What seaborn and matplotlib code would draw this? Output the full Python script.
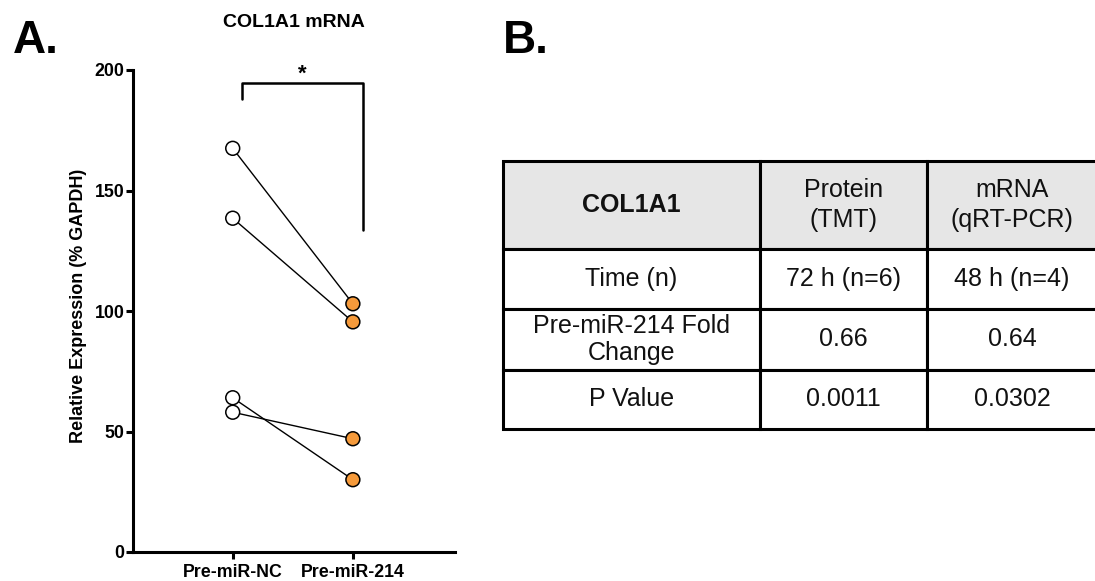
import matplotlib
matplotlib.use("Agg")
from matplotlib import pyplot as plt
import pandas as pd
import seaborn as sns

# panel A data
groups = ["Pre-miR-NC", "Pre-miR-214"]
nc_values = [167.5, 138.5, 64.0, 58.0]
mir214_values = [103.0, 95.5, 30.0, 47.0]
y_ticks = [0, 50, 100, 150, 200]

# panel B table
header = ["COL1A1", "Protein\n(TMT)", "mRNA\n(qRT-PCR)"]
row_labels = ["Time (n)", "Pre-miR-214 Fold\nChange", "P Value"]
protein_col = ["72 h (n=6)", "0.66", "0.0011"]
mrna_col = ["48 h (n=4)", "0.64", "0.0302"]

ORANGE = "#F59A3B"

sns.set_style("ticks")
plt.rcParams['font.family'] = ['Liberation Sans', 'DejaVu Sans']
plt.rcParams.update({'text.color': 'black', 'axes.labelcolor': 'black',
                     'xtick.color': 'black', 'ytick.color': 'black',
                     'axes.edgecolor': 'black'})

# long format, one row per sample and group
df = pd.DataFrame({
    'pair': list(range(len(nc_values))) * 2,
    'group': [groups[0]] * len(nc_values) + [groups[1]] * len(mir214_values),
    'value': nc_values + mir214_values,
})

W, H = 1095, 581
fig = plt.figure(figsize=(W / 100, H / 100), dpi=100)

# ---- panel A
ax = fig.add_axes([133 / W, (H - 552) / H, 322 / W, 482 / H])
sns.lineplot(data=df, x='group', y='value', units='pair', estimator=None,
             color='black', linewidth=1.0, ax=ax, zorder=2)
sns.scatterplot(data=df, x='group', y='value', hue='group',
                palette={groups[0]: 'white', groups[1]: ORANGE},
                s=100, edgecolor='black', linewidth=1.1, legend=False,
                ax=ax, zorder=3, clip_on=False)

ax.set_xlim(-0.83, 1.85)
ax.set_ylim(0, 200)
ax.set_yticks(y_ticks)
ax.set_xlabel('')
ax.set_ylabel('Relative Expression (% GAPDH)', fontsize=13, fontweight='bold')
ax.yaxis.set_label_coords(-0.142, 0.51)
sns.despine(ax=ax)
for s in ['left', 'bottom']:
    ax.spines[s].set_linewidth(2.2)
ax.tick_params(axis='both', width=2.2, length=5, labelsize=12.8)
ax.tick_params(axis='y', pad=1)
for lab in ax.get_xticklabels() + ax.get_yticklabels():
    lab.set_fontweight('bold')

# significance bracket
ax.plot([0.075, 0.075, 1.083, 1.083], [188, 194.6, 194.6, 133.5],
        color='black', linewidth=1.8, clip_on=False)
ax.text(0.583, 193.8, '*', ha='center', va='bottom', fontsize=16,
        fontweight='bold')

fig.text(294 / W, (H - 22.5) / H, 'COL1A1 mRNA', ha='center', va='center',
         fontsize=14, fontweight='bold')
fig.text(12.7 / W, (H - 53) / H, 'A.', ha='left', va='baseline',
         fontsize=33, fontweight='bold')
fig.text(502.7 / W, (H - 53) / H, 'B.', ha='left', va='baseline',
         fontsize=33, fontweight='bold')

# ---- panel B table
tax = fig.add_axes([503 / W, (H - 429) / H, (1097 - 503) / W, (429 - 161) / H])
tax.axis('off')
cells = [[row_labels[i], protein_col[i], mrna_col[i]] for i in range(len(row_labels))]
tbl = tax.table(cellText=cells, colLabels=header, cellLoc='center',
                bbox=[0, 0, 1, 1])
tbl.auto_set_font_size(False)
tbl.set_fontsize(18)
col_w = [257, 167, 170]
row_h = [88, 60, 61, 59]
for (r, c), cell in tbl.get_celld().items():
    cell.set_width(col_w[c])
    cell.set_height(row_h[r])
    cell.set_linewidth(2.2)
    cell.set_edgecolor('black')
    cell.get_text().set_linespacing(1.3 if r == 0 else 1.2)
    cell.get_text().set_color('#111111')
    if r == 0:
        cell.set_facecolor('#E6E6E6')
tbl[0, 0].get_text().set_fontweight('bold')

fig.savefig('out.png', dpi=100)
